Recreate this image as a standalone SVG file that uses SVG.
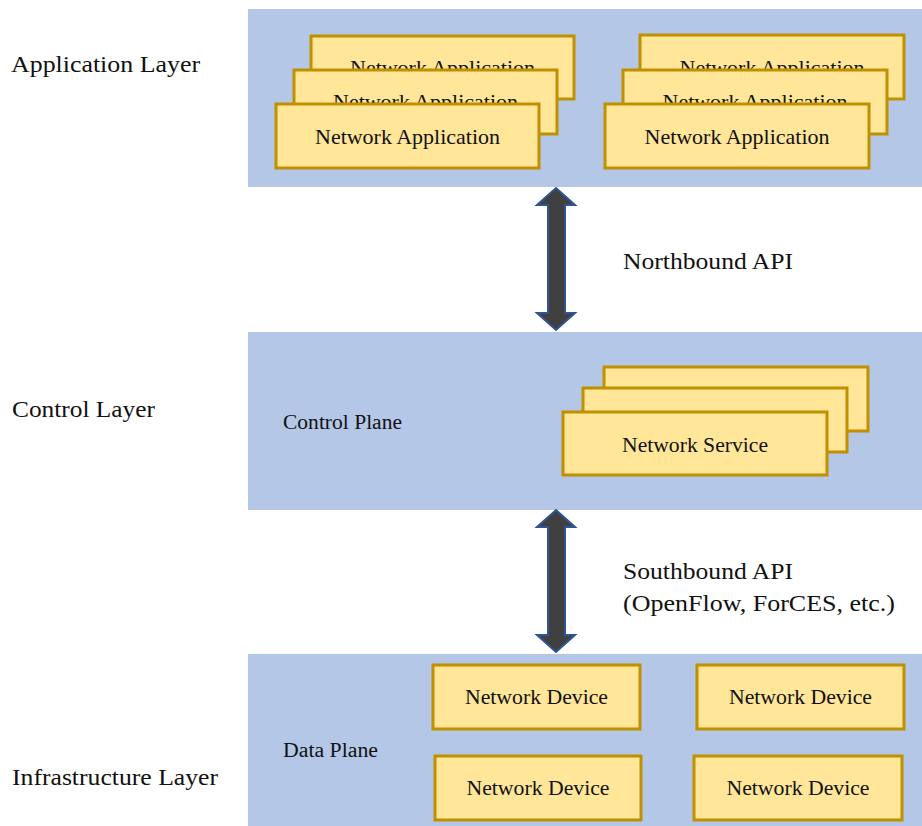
<svg xmlns="http://www.w3.org/2000/svg" width="922" height="826" viewBox="0 0 922 826" font-family="'Liberation Serif', 'Times New Roman', Times, serif">
  <style>
    .panel { fill: #b4c7e7; }
    .box { fill: #ffe699; stroke: #bf9000; stroke-width: 3; }
    text { font-family: 'Liberation Serif', Tinos, 'Times New Roman', Times, serif; fill: #111; }
    .layer { font-size: 24px; }
    .api { font-size: 24px; }
    .plane { font-size: 20px; }
    .lbl { font-size: 21px; text-anchor: middle; }
    .arrow { fill: #404040; stroke: #2f5597; stroke-width: 2; stroke-linejoin: miter; }
  </style>

  <rect width="922" height="826" fill="#ffffff"/>

  <!-- Layer panels -->
  <g id="application-layer">
    <rect class="panel" x="248" y="9" width="674" height="178"/>
    <text class="layer" x="11" y="72" textLength="189" lengthAdjust="spacingAndGlyphs">Application Layer</text>
  </g>
  <g id="control-layer">
    <rect class="panel" x="248" y="332" width="674" height="178"/>
    <text class="layer" x="12" y="417" textLength="143" lengthAdjust="spacingAndGlyphs">Control Layer</text>
    <text class="plane" x="283" y="429" textLength="119" lengthAdjust="spacingAndGlyphs">Control Plane</text>
  </g>
  <g id="infrastructure-layer">
    <rect class="panel" x="248" y="654" width="674" height="172"/>
    <text class="layer" x="12" y="785" textLength="206" lengthAdjust="spacingAndGlyphs">Infrastructure Layer</text>
    <text class="plane" x="283" y="757" textLength="95" lengthAdjust="spacingAndGlyphs">Data Plane</text>
  </g>

  <!-- Application stacks -->
  <g id="app-stack-left">
    <rect class="box" x="311" y="36" width="263" height="63"/>
    <text class="lbl" x="442.5" y="75" textLength="185" lengthAdjust="spacingAndGlyphs">Network Application</text>
    <rect class="box" x="294" y="70" width="263" height="64"/>
    <text class="lbl" x="425.5" y="109" textLength="185" lengthAdjust="spacingAndGlyphs">Network Application</text>
    <rect class="box" x="276" y="104" width="263" height="64"/>
    <text class="lbl" x="407.5" y="144" textLength="185" lengthAdjust="spacingAndGlyphs">Network Application</text>
  </g>
  <g id="app-stack-right">
    <rect class="box" x="640" y="35" width="264" height="64"/>
    <text class="lbl" x="772" y="75" textLength="185" lengthAdjust="spacingAndGlyphs">Network Application</text>
    <rect class="box" x="623" y="70" width="264" height="64"/>
    <text class="lbl" x="755" y="109" textLength="185" lengthAdjust="spacingAndGlyphs">Network Application</text>
    <rect class="box" x="605" y="104" width="264" height="64"/>
    <text class="lbl" x="737" y="144" textLength="185" lengthAdjust="spacingAndGlyphs">Network Application</text>
  </g>

  <!-- Network service stack -->
  <g id="service-stack">
    <rect class="box" x="604" y="367" width="264" height="64"/>
    <rect class="box" x="583" y="388" width="264" height="64"/>
    <rect class="box" x="563" y="412" width="264" height="63"/>
    <text class="lbl" x="695" y="452" textLength="146" lengthAdjust="spacingAndGlyphs">Network Service</text>
  </g>

  <!-- Network devices -->
  <g id="device-1">
    <rect class="box" x="433" y="665" width="207" height="64"/>
    <text class="lbl" x="536.5" y="704" textLength="143" lengthAdjust="spacingAndGlyphs">Network Device</text>
  </g>
  <g id="device-2">
    <rect class="box" x="697" y="665" width="207" height="64"/>
    <text class="lbl" x="800.5" y="704" textLength="143" lengthAdjust="spacingAndGlyphs">Network Device</text>
  </g>
  <g id="device-3">
    <rect class="box" x="435" y="756" width="206" height="64"/>
    <text class="lbl" x="538" y="795" textLength="143" lengthAdjust="spacingAndGlyphs">Network Device</text>
  </g>
  <g id="device-4">
    <rect class="box" x="694" y="756" width="208" height="64"/>
    <text class="lbl" x="798" y="795" textLength="143" lengthAdjust="spacingAndGlyphs">Network Device</text>
  </g>

  <!-- Interfaces between layers -->
  <g id="connectors">
    <path class="arrow" d="M556,188 L575,205 L565,205 L565,313 L575,313 L556,330 L537,313 L548,313 L548,205 L537,205 Z"/>
    <path class="arrow" d="M556,510 L575,527 L565,527 L565,635 L575,635 L556,652 L537,635 L548,635 L548,527 L537,527 Z"/>
    <text class="api" x="623" y="269" textLength="170" lengthAdjust="spacingAndGlyphs">Northbound API</text>
    <text class="api" x="623" y="579" textLength="170" lengthAdjust="spacingAndGlyphs">Southbound API</text>
    <text class="api" x="623" y="611" textLength="272" lengthAdjust="spacingAndGlyphs">(OpenFlow, ForCES, etc.)</text>
  </g>
</svg>
